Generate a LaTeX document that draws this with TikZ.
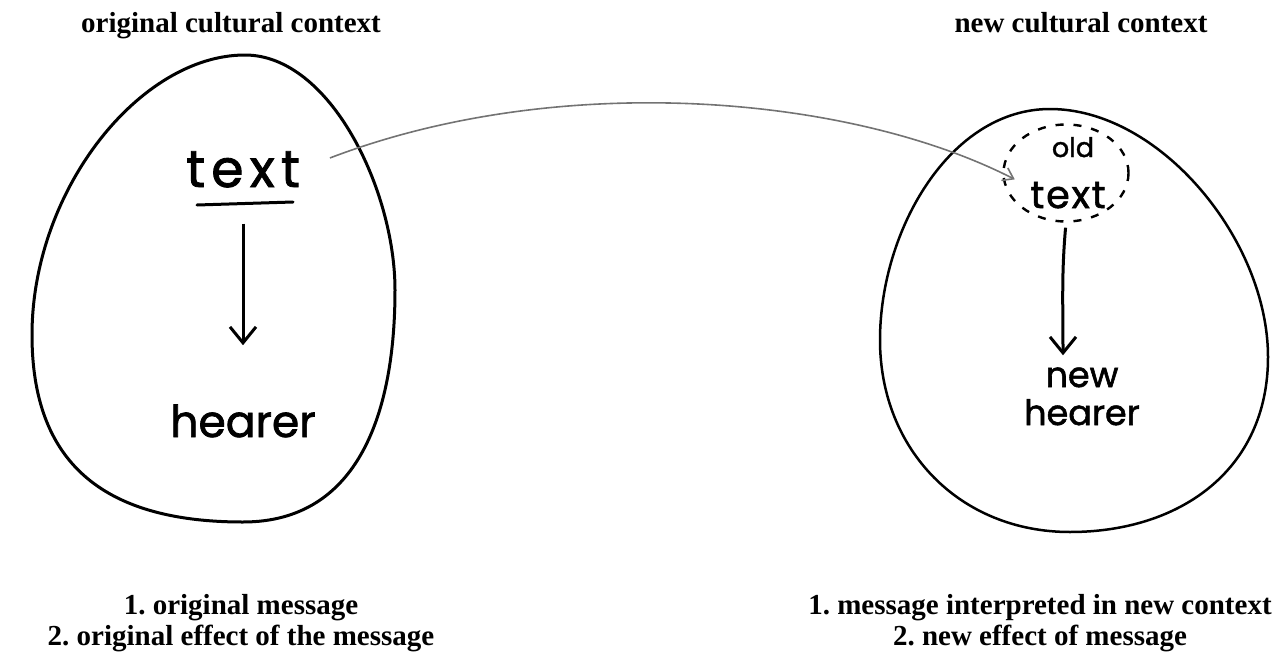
\documentclass[tikz,border=0pt]{standalone}
\usepackage{fontspec}
\setmainfont{Liberation Serif}
\newfontfamily\handfont[FakeBold=1.6]{Poppins}
\frenchspacing
\usetikzlibrary{arrows.meta,shapes.geometric}

\begin{document}
\begin{tikzpicture}
[x=1pt,y=-1pt,
  titledecorate/.style={font=\bfseries\fontsize{29}{31}\selectfont,align=center,anchor=base,inner sep=0pt},%
  bighand/.style={font=\handfont\addfontfeature{LetterSpace=12}\fontsize{52}{56}\selectfont,anchor=base,inner sep=0pt},%
  midhand/.style={font=\handfont\fontsize{44}{48}\selectfont,anchor=base,inner sep=0pt},%
  smallhand/.style={font=\handfont\fontsize{35}{38}\selectfont,align=center,anchor=base,inner sep=0pt},%
  ringdecorate/.style={line width=3pt,line join=round},%
  dashringdecorate/.style={shape=ellipse,draw,line width=2.4pt,dash pattern=on 8pt off 10pt,
    minimum width=125pt,minimum height=97pt,inner sep=0pt},%
  arrowdecorate/.style={line width=3pt,-{Straight Barb[length=16pt,width=26pt,line width=3pt]}},%
  linkdecorate/.style={line width=1.6pt,black!55,-{Straight Barb[length=10pt,width=14pt,line width=1.6pt]}}]
\useasboundingbox (0,0) rectangle (1288,653);
%% titles and notes
\node[titledecorate] (origtitle) at (231,32) {original cultural context};
\node[titledecorate] (newtitle) at (1081,32) {new cultural context};
\node[titledecorate] (orignote) at (241,645) {1. original message\\2. original effect of the message};
\node[titledecorate] (newnote) at (1040,645) {1. message interpreted in new context\\2. new effect of message};
%% the two contexts
\draw[ringdecorate] (245,55) .. controls (330,55) and (395,190) .. (395,290)
  .. controls (395,410) and (360,522) .. (243,522)
  .. controls (100,522) and (32,460) .. (32,335)
  .. controls (32,190) and (140,55) .. cycle;
\draw[ringdecorate,line width=2.5pt] (1050,109) .. controls (1160,109) and (1268,240) .. (1268,357)
  .. controls (1268,470) and (1180,532) .. (1070,532)
  .. controls (960,532) and (880,450) .. (880,340)
  .. controls (880,230) and (950,109) .. cycle;
%% handwritten words
\node[bighand] (lefttext) at (243,187) {text};
\node[midhand] (lefthearer) at (243,437) {hearer};
\node[dashringdecorate] (oldring) at (1066,173) {};
\node[smallhand,font=\handfont\fontsize{27}{30}\selectfont] (oldword) at (1073,157) {old};
\node[smallhand,font=\handfont\addfontfeature{LetterSpace=5}\fontsize{38}{40}\selectfont] (righttext) at (1068,208) {text};
\node[smallhand] (newhearer) at (1082,425) {new\\hearer};
%% underline and arrows
\coordinate (ulstart) at (197,205);
\coordinate (ulend) at (293,202);
\draw[line width=3pt,line cap=round] (ulstart) -- (ulend);
\draw[arrowdecorate,shorten <=36pt,shorten >=59pt] (lefttext.south) -- (lefthearer.north);
\draw[arrowdecorate,shorten <=5pt] (oldring.south) to[out=-95,in=90] ([xshift=-19pt,yshift=12pt]newhearer.north);
\draw[linkdecorate,shorten <=32pt,shorten >=-14pt] (lefttext.east) .. controls (560,70) and (850,95) .. (oldring.west);
\end{tikzpicture}
\end{document}
